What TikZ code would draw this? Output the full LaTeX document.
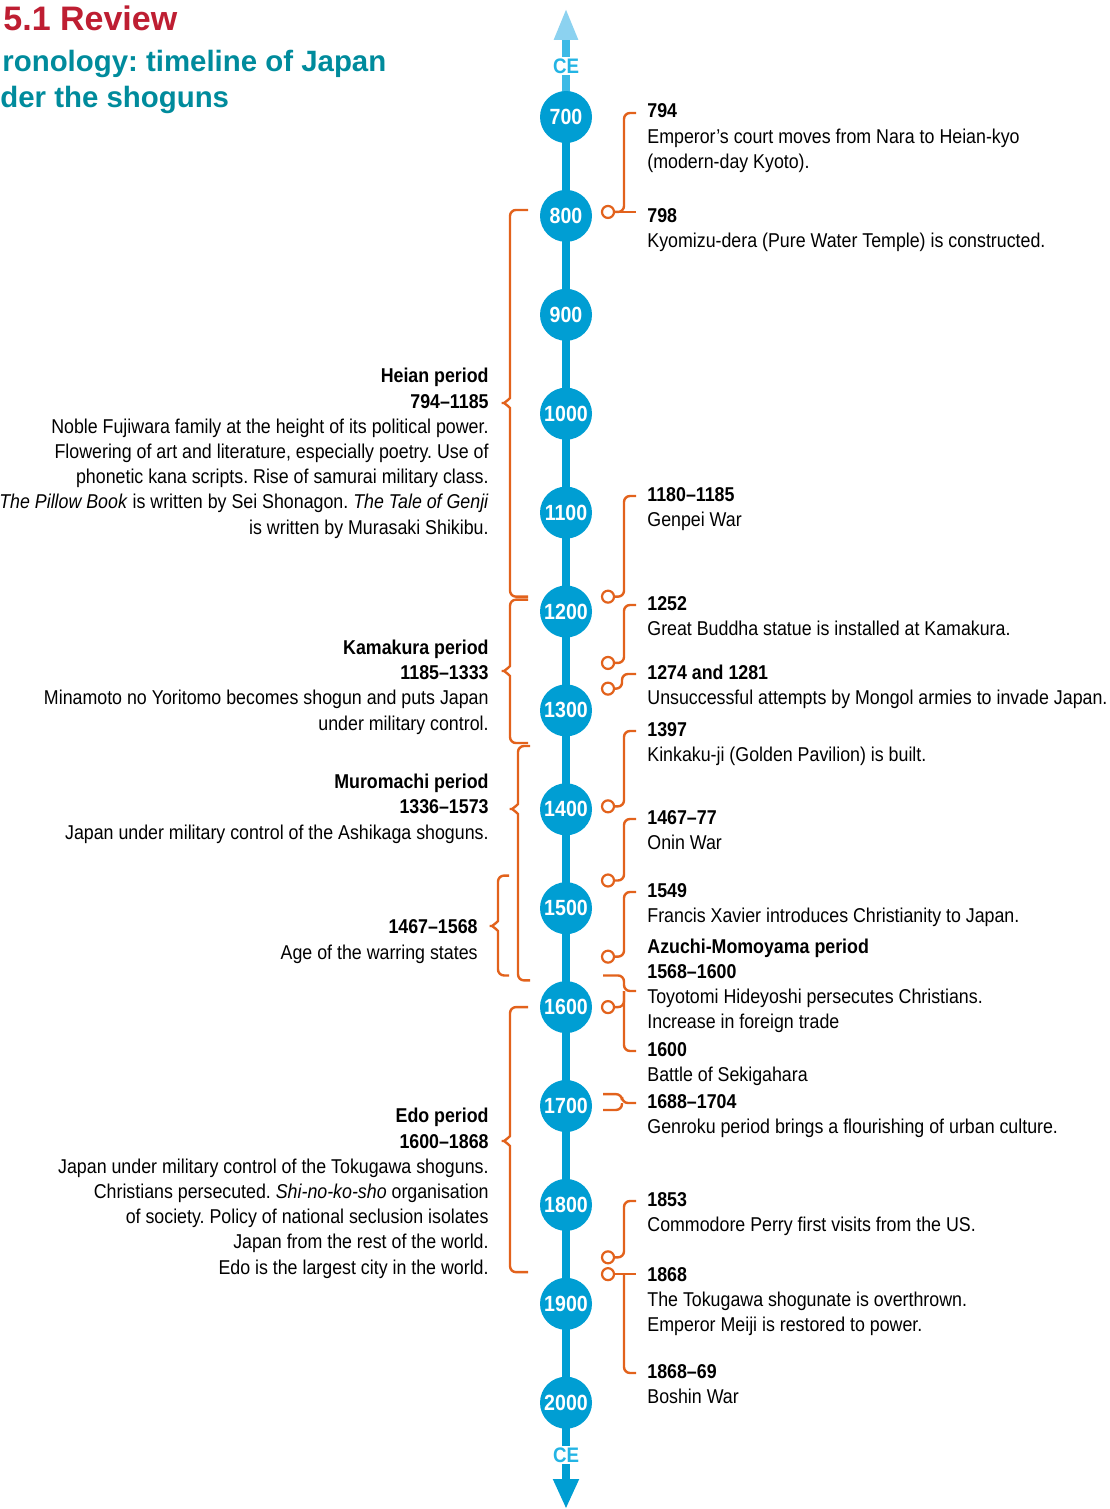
\documentclass[tikz,border=0pt]{standalone}
\usepackage{fontspec}
\setmainfont{Liberation Sans}[FakeStretch=0.89]
\newfontfamily\headfont{Liberation Sans}
\usetikzlibrary{arrows.meta}
\frenchspacing

\definecolor{lineblue}{RGB}{0,158,211}
\definecolor{lightblue}{RGB}{60,186,230}
\definecolor{paleblue}{RGB}{140,210,240}
\definecolor{ceblue}{RGB}{35,180,228}
\definecolor{linkorange}{RGB}{226,98,28}
\definecolor{headred}{RGB}{190,30,50}
\definecolor{headteal}{RGB}{0,139,156}

\tikzset{
  yearnode/.style={circle, fill=lineblue, text=white, minimum size=26pt, inner sep=0pt,
    font=\fontsize{11}{12}\selectfont\bfseries},
  evt/.style={inner sep=0pt, align=left, font=\fontsize{10}{12.6}\selectfont},
  period/.style={inner sep=0pt, align=right, font=\fontsize{10}{12.6}\selectfont},
  ring/.style={circle, draw=linkorange, fill=white, line width=1.1pt, minimum size=6pt, inner sep=0pt},
  link/.style={draw=linkorange, line width=1.2pt, rounded corners=3pt},
  celabel/.style={fill=white, text=ceblue, inner sep=1pt, font=\fontsize{10.5}{11}\selectfont\bfseries},
}

% y of a year on the time line
\newcommand{\ty}[1]{117+0.989*(#1-700)}
% event on the right: name, first baseline, lines, bold line, text
\newcommand{\eventnode}[5]{%
  \node[evt, anchor=base west] (#1) at (647,{#2+25.2*(#3-1)}) {\textbf{#4}\\#5};
  \coordinate (#1t) at (636,#2-5);}
% brace of a period: top y, bottom y, tip y, stem x, end x
\newcommand{\periodbrace}[5]{%
  \draw[link] (#5,{#1}) -- (#4,{#1}) -- (#4,#3-11)
    to[out=-90,in=0] (#4-12,#3) to[out=0,in=90] (#4,#3+11) -- (#4,{#2}) -- (#5,{#2});}

\begin{document}
\begin{tikzpicture}[x=0.5pt,y=-0.5pt]
\useasboundingbox (0,0) rectangle (1109,1509);

% heading
\node[anchor=base west, inner sep=0pt, text=headred, font=\headfont\bfseries\fontsize{17}{20}\selectfont] (review) at (3,31) {5.1 Review};
\node[anchor=base west, inner sep=0pt, text=headteal, font=\headfont\bfseries\fontsize{14.7}{18}\selectfont] (chron) at (2,72) {ronology: timeline of Japan};
\node[anchor=base west, inner sep=0pt, text=headteal, font=\headfont\bfseries\fontsize{14.7}{18}\selectfont] (shog) at (0,108) {der the shoguns};

% time line
\coordinate (axisTop) at (566,8);
\coordinate (axisBottom) at (566,1509);
\coordinate (axis700) at (566,117);
\draw[lightblue, line width=4pt, -{Triangle[width=11pt,length=16pt,color=paleblue]}] (axis700) -- (axisTop);
\draw[lineblue, line width=4pt, -{Triangle[width=12pt,length=15pt]}] (axis700) -- (axisBottom);
\foreach \yy [count=\i from 0] in {700,800,...,2000}
  \node[yearnode] (c\yy) at (566,{117+98.9*\i}) {\yy};
\node[celabel] (ceTop) at (566,66) {CE};
\node[celabel] (ceBottom) at (566,1455) {CE};

% periods (placed at the baseline of their last line)
\node[period, anchor=base east] (heian) at (489,534) {\textbf{Heian period}\\\textbf{794--1185}\\
  Noble Fujiwara family at the height of its political power.\\
  Flowering of art and literature, especially poetry. Use of\\
  phonetic kana scripts. Rise of samurai military class.\\
  \textit{The Pillow Book} is written by Sei Shonagon. \textit{The Tale of Genji}\\
  is written by Murasaki Shikibu.};
\node[period, anchor=base east] (kamakura) at (489,730) {\textbf{Kamakura period}\\\textbf{1185--1333}\\
  Minamoto no Yoritomo becomes shogun and puts Japan\\under military control.};
\node[period, anchor=base east] (muromachi) at (489,839) {\textbf{Muromachi period}\\\textbf{1336--1573}\\
  Japan under military control of the Ashikaga shoguns.};
\node[period, anchor=base east] (warring) at (478,959) {\textbf{1467--1568}\\Age of the warring states};
\node[period, anchor=base east] (edo) at (489,1274) {\textbf{Edo period}\\\textbf{1600--1868}\\
  Japan under military control of the Tokugawa shoguns.\\
  Christians persecuted. \textit{Shi-no-ko-sho} organisation\\
  of society. Policy of national seclusion isolates\\
  Japan from the rest of the world.\\
  Edo is the largest city in the world.};

\periodbrace{\ty{794}}{\ty{1185}}{403}{510}{528}
\periodbrace{\ty{1185}+3}{\ty{1333}}{671}{510}{528}
\periodbrace{\ty{1336}}{\ty{1573}}{809}{518}{530}
\periodbrace{\ty{1467}}{\ty{1568}}{926}{498}{509}
\periodbrace{\ty{1600}}{\ty{1868}}{1141}{510}{528}

% events
\eventnode{e794}{118}{3}{794}{Emperor’s court moves from Nara to Heian-kyo\\(modern-day Kyoto).}
\eventnode{e798}{222}{2}{798}{Kyomizu-dera (Pure Water Temple) is constructed.}
\eventnode{e1180}{501}{2}{1180--1185}{Genpei War}
\eventnode{e1252}{610}{2}{1252}{Great Buddha statue is installed at Kamakura.}
\eventnode{e1274}{679}{2}{1274 and 1281}{Unsuccessful attempts by Mongol armies to invade Japan.}
\eventnode{e1397}{736}{2}{1397}{Kinkaku-ji (Golden Pavilion) is built.}
\eventnode{e1467}{824}{2}{1467--77}{Onin War}
\eventnode{e1549}{897}{2}{1549}{Francis Xavier introduces Christianity to Japan.}
\eventnode{e1568}{953}{4}{Azuchi-Momoyama period}{\textbf{1568--1600}\\Toyotomi Hideyoshi persecutes Christians.\\Increase in foreign trade}
\eventnode{e1600}{1056}{2}{1600}{Battle of Sekigahara}
\eventnode{e1688}{1108}{2}{1688--1704}{Genroku period brings a flourishing of urban culture.}
\eventnode{e1853}{1206}{2}{1853}{Commodore Perry first visits from the US.}
\eventnode{e1868}{1281}{3}{1868}{The Tokugawa shogunate is overthrown.\\Emperor Meiji is restored to power.}
\eventnode{e1869}{1378}{2}{1868--69}{Boshin War}

% rings on the time line
\node[ring] (r796) at (608,{\ty{796}}) {};
\node[ring] (r1185) at (608,{\ty{1185}}) {};
\node[ring] (r1252) at (608,{\ty{1252}}) {};
\node[ring] (r1278) at (608,{\ty{1278}}) {};
\node[ring] (r1397) at (608,{\ty{1397}}) {};
\node[ring] (r1472) at (608,{\ty{1472}}) {};
\node[ring] (r1549) at (608,{\ty{1549}}) {};
\node[ring] (r1600) at (608,{\ty{1600}}) {};
\node[ring] (r1853) at (608,{\ty{1853}}) {};
\node[ring] (r1868) at (608,{\ty{1868}+2}) {};
\coordinate (s1568) at (603,{\ty{1568}});
\coordinate (s1688) at (603,{\ty{1688}});
\coordinate (s1704) at (603,{\ty{1704}});
\coordinate (e1568tip) at (636,991);

% links
\draw[link] (r796.east) -| ([xshift=-6pt]e794t) -- (e794t);
\draw[link] (r796.east) -- (r796.east -| e798t);
\draw[link] (r1185.east) -| ([xshift=-6pt]e1180t) -- (e1180t);
\draw[link] (r1252.east) -| ([xshift=-6pt]e1252t) -- (e1252t);
\draw[link] (r1278.east) -| ([xshift=-7pt]e1274t) -- (e1274t);
\draw[link] (r1397.east) -| ([xshift=-6pt]e1397t) -- (e1397t);
\draw[link] (r1472.east) -| ([xshift=-6pt]e1467t) -- (e1467t);
\draw[link] (r1549.east) -| ([xshift=-6pt]e1549t) -- (e1549t);
\draw[link] (s1568) -| ([xshift=-6pt]e1568tip) -- (e1568tip);
\draw[link] ([xshift=-6pt]e1568tip) |- (e1600t);
\draw[link] (r1600.east) -| ([xshift=-6pt]e1568tip);
\draw[link] (s1688) -| ([xshift=-7pt]e1688t) -- (e1688t);
\draw[link] ([xshift=-7pt]e1688t) |- (s1704);
\draw[link] (r1853.east) -| ([xshift=-6pt]e1853t) -- (e1853t);
\draw[link] (r1868.east) -- (r1868.east -| e1868t);
\draw[link] ([xshift=-6pt]r1868.east -| e1868t) |- (e1869t);
\end{tikzpicture}
\end{document}
